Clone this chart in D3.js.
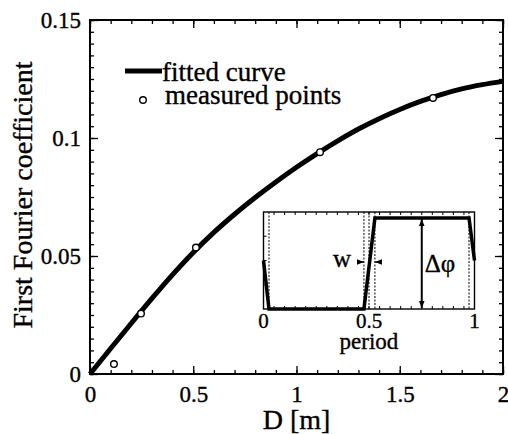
<!DOCTYPE html>
<html>
<head>
<meta charset="utf-8">
<script src="https://cdn.jsdelivr.net/npm/d3@7"></script>
<style>
  body { margin: 0; background: #fff; }
  svg text { font-family: "Liberation Serif", "DejaVu Serif", serif; fill: #000; stroke: #000; stroke-width: 0.35px; }
</style>
</head>
<body>
<div id="chart"></div>
<script>
// Section 1: data
// ====================================

// fitted curve, sampled every 0.1 m
var curveD = [0, 0.1, 0.2, 0.3, 0.4, 0.5, 0.6, 0.7, 0.8, 0.9, 1.0,
  1.1, 1.2, 1.3, 1.4, 1.5, 1.6, 1.7, 1.8, 1.9, 2.0];
var curveCoef = [0, 0.0108, 0.0215, 0.032, 0.0421, 0.0515, 0.06, 0.0677, 0.0748, 0.0814, 0.0876,
  0.0934, 0.0988, 0.1038, 0.1082, 0.1121, 0.1155, 0.1184, 0.1208, 0.1226, 0.124];

// measured points
var measD = [0.116, 0.247, 0.513, 1.114, 1.661];
var measCoef = [0.0042, 0.0256, 0.0536, 0.094, 0.117];

// tick labels
var xTickVals = [0, 0.5, 1, 1.5, 2];
var xTickLabels = ["0", "0.5", "1", "1.5", "2"];
var yTickVals = [0, 0.05, 0.1, 0.15];
var yTickLabels = ["0", "0.05", "0.1", "0.15"];

// inset: one period of the phase profile
var wavePeriod = [0, 0.026, 0.476, 0.528, 0.974, 1.0];
var waveLevel = [0.5, 0, 0, 0.938, 0.938, 0.5];
var guidePeriods = [0.026, 0.476, 0.5, 0.528, 0.974];
var insetTickVals = [0, 0.5, 1];
var insetTickLabels = ["0", "0.5", "1"];

// Section 2: canvas
// ==================
var width = 508;
var height = 434;

var svg = d3.select("#chart")
  .append("svg")
  .attr("width", width)
  .attr("height", height);

// plot box edges (note: "top" is taken by window.top)
var pLeft = 90, pRight = 503, pTop = 20, pBottom = 374;

var x = d3.scaleLinear().domain([0, 2]).range([pLeft, pRight]);
var y = d3.scaleLinear().domain([0, 0.15]).range([pBottom, pTop]);

// minor ticks on all four sides (inward)
var xMinor = d3.range(0, 2.0001, 0.1);
var yMinor = d3.range(0, 0.15001, 0.005);

function tickGroup(axis, tx, ty) {
  var g = svg.append("g")
    .attr("transform", "translate(" + tx + "," + ty + ")")
    .call(axis);
  g.select(".domain").remove();
  g.attr("font-family", null);
  g.selectAll("line").attr("stroke", "#000").attr("stroke-width", 1.3);
  return g;
}

tickGroup(d3.axisBottom(x).tickValues(xMinor).tickSize(-4).tickFormat(""), 0, pBottom);
tickGroup(d3.axisTop(x).tickValues(xMinor).tickSize(-4).tickFormat(""), 0, pTop);
tickGroup(d3.axisLeft(y).tickValues(yMinor).tickSize(-4).tickFormat(""), pLeft, 0);
tickGroup(d3.axisRight(y).tickValues(yMinor).tickSize(-4).tickFormat(""), pRight, 0);

// major ticks with labels
var xAxis = tickGroup(d3.axisBottom(x).tickValues(xTickVals).tickSize(-8)
  .tickFormat(function(d, i) { return xTickLabels[i]; }), 0, pBottom);
xAxis.selectAll("text")
  .attr("y", 28).attr("dy", 0)
  .style("font-size", "23px");

tickGroup(d3.axisTop(x).tickValues(xTickVals).tickSize(-8).tickFormat(""), 0, pTop);

var yAxis = tickGroup(d3.axisLeft(y).tickValues(yTickVals).tickSize(-8)
  .tickFormat(function(d, i) { return yTickLabels[i]; }), pLeft, 0);
yAxis.selectAll("text")
  .attr("x", -9).attr("dy", "0.34em")
  .style("font-size", "23px");

tickGroup(d3.axisRight(y).tickValues(yTickVals).tickSize(-8).tickFormat(""), pRight, 0);

// frame
svg.append("rect")
  .attr("x", pLeft).attr("y", pTop)
  .attr("width", pRight - pLeft).attr("height", pBottom - pTop)
  .attr("fill", "none").attr("stroke", "#000").attr("stroke-width", 2);

// axis titles
svg.append("text")
  .attr("x", (pLeft + pRight) / 2).attr("y", 429)
  .attr("text-anchor", "middle")
  .style("font-size", "28px")
  .text("D [m]");

svg.append("text")
  .attr("transform", "translate(32," + 195 + ")rotate(-90)")
  .attr("text-anchor", "middle")
  .style("font-size", "28px")
  .text("First Fourier coefficient");

// Section 3: inset (drawn before the curve so the curve stays on top)
// ====================================================================
var iLeft = 263.5, iRight = 474.5, iTop = 212, iBottom = 309;
var ix = d3.scaleLinear().domain([0, 1]).range([iLeft, iRight]);
var iy = d3.scaleLinear().domain([0, 1]).range([iBottom, iTop]);

var inset = svg.append("g").attr("class", "inset");

inset.append("rect")
  .attr("x", iLeft).attr("y", iTop)
  .attr("width", iRight - iLeft).attr("height", iBottom - iTop)
  .attr("fill", "#fff").attr("stroke", "#000").attr("stroke-width", 1.4);

var iMinor = d3.range(0, 1.0001, 0.05);
inset.selectAll(".itb")
  .data(iMinor)
  .enter()
  .append("line")
  .attr("x1", function(d) { return ix(d); })
  .attr("x2", function(d) { return ix(d); })
  .attr("y1", iBottom).attr("y2", iBottom - 3)
  .attr("stroke", "#000").attr("stroke-width", 1);
inset.selectAll(".itt")
  .data(iMinor)
  .enter()
  .append("line")
  .attr("x1", function(d) { return ix(d); })
  .attr("x2", function(d) { return ix(d); })
  .attr("y1", iTop).attr("y2", iTop + 3)
  .attr("stroke", "#000").attr("stroke-width", 1);
inset.selectAll(".itl")
  .data([0.25, 0.5, 0.75])
  .enter()
  .append("line")
  .attr("x1", iLeft).attr("x2", iLeft + 3)
  .attr("y1", function(d) { return iy(d); })
  .attr("y2", function(d) { return iy(d); })
  .attr("stroke", "#000").attr("stroke-width", 1);

// dotted guides
inset.selectAll(".guide")
  .data(guidePeriods)
  .enter()
  .append("line")
  .attr("x1", function(d) { return ix(d); })
  .attr("x2", function(d) { return ix(d); })
  .attr("y1", iTop).attr("y2", iBottom)
  .attr("stroke", "#000").attr("stroke-width", 1)
  .attr("stroke-dasharray", "2,1.5");

// waveform
var wave = wavePeriod.map(function(p, i) { return [p, waveLevel[i]]; });
inset.append("path")
  .datum(wave)
  .attr("fill", "none")
  .attr("stroke", "#000")
  .attr("stroke-width", 3.5)
  .attr("d", d3.line()
    .x(function(d) { return ix(d[0]); })
    .y(function(d) { return iy(d[1]); }));

// arrowheads
var defs = svg.append("defs");
defs.append("marker")
  .attr("id", "arr")
  .attr("viewBox", "0 0 10 10")
  .attr("refX", 10).attr("refY", 5)
  .attr("markerWidth", 7).attr("markerHeight", 7)
  .attr("markerUnits", "userSpaceOnUse")
  .attr("orient", "auto-start-reverse")
  .append("path")
  .attr("d", "M0,1L10,5L0,9Z")
  .attr("fill", "#000");

// delta-phi double arrow
inset.append("line")
  .attr("x1", ix(0.75)).attr("x2", ix(0.75))
  .attr("y1", iy(0.938) + 1).attr("y2", iBottom - 1)
  .attr("stroke", "#000").attr("stroke-width", 2)
  .attr("marker-start", "url(#arr)")
  .attr("marker-end", "url(#arr)");

inset.append("text")
  .attr("x", ix(0.75) + 3).attr("y", 272)
  .style("font-size", "25px")
  .text("Δφ");

// w arrows pointing in toward the edge width
var wY = 262;
inset.append("line")
  .attr("x1", ix(0.45)).attr("x2", ix(0.476))
  .attr("y1", wY).attr("y2", wY)
  .attr("stroke", "#000").attr("stroke-width", 1.3)
  .attr("marker-end", "url(#arr)");
inset.append("line")
  .attr("x1", ix(0.555)).attr("x2", ix(0.528))
  .attr("y1", wY).attr("y2", wY)
  .attr("stroke", "#000").attr("stroke-width", 1.3)
  .attr("marker-end", "url(#arr)");

inset.append("text")
  .attr("x", 342).attr("y", 267)
  .attr("text-anchor", "middle")
  .style("font-size", "25px")
  .text("w");

// inset tick labels
inset.selectAll(".ilab")
  .data(insetTickVals)
  .enter()
  .append("text")
  .attr("x", function(d) { return ix(d); })
  .attr("y", 328)
  .attr("text-anchor", "middle")
  .style("font-size", "21px")
  .text(function(d, i) { return insetTickLabels[i]; });

inset.append("text")
  .attr("x", ix(0.5)).attr("y", 349)
  .attr("text-anchor", "middle")
  .style("font-size", "23px")
  .text("period");

// Section 4: curve, points, legend
// =================================
var curveData = curveD.map(function(d, i) { return [d, curveCoef[i]]; });

svg.append("path")
  .datum(curveData)
  .attr("fill", "none")
  .attr("stroke", "#000")
  .attr("stroke-width", 5)
  .attr("d", d3.line()
    .curve(d3.curveMonotoneX)
    .x(function(d) { return x(d[0]); })
    .y(function(d) { return y(d[1]); }));

svg.selectAll(".pt")
  .data(measD)
  .enter()
  .append("circle")
  .attr("cx", function(d) { return x(d); })
  .attr("cy", function(d, i) { return y(measCoef[i]); })
  .attr("r", 3.3)
  .attr("fill", "#fff")
  .attr("stroke", "#000")
  .attr("stroke-width", 1.4);

// legend
svg.append("line")
  .attr("x1", 125).attr("x2", 162)
  .attr("y1", 71).attr("y2", 71)
  .attr("stroke", "#000").attr("stroke-width", 5);
svg.append("text")
  .attr("x", 162).attr("y", 81)
  .style("font-size", "27px")
  .text("fitted curve");

svg.append("circle")
  .attr("cx", 143).attr("cy", 100)
  .attr("r", 3.3)
  .attr("fill", "#fff").attr("stroke", "#000").attr("stroke-width", 1.4);
svg.append("text")
  .attr("x", 165).attr("y", 104)
  .style("font-size", "27px")
  .text("measured points");
</script>
</body>
</html>
